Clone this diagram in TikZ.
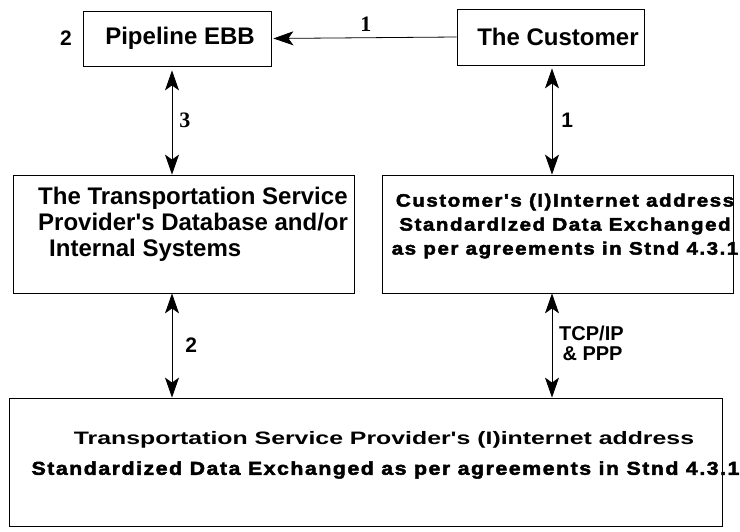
\documentclass[tikz,border=0pt]{standalone}
\usepackage{fontspec}
\setmainfont{Liberation Sans}[Ligatures=TeXOff]
\newfontfamily\serifnum{Liberation Serif}[Ligatures=TeXOff]
\newfontfamily\widesans{Liberation Sans}[FakeStretch=1.38,Ligatures=TeXOff]
\newfontfamily\heavysans{Liberation Sans}[FakeStretch=1.15,LetterSpace=8,Ligatures=TeXOff,
  BoldFeatures={FakeBold=2.5}]
\usetikzlibrary{arrows.meta}

\tikzset{
  box/.style={draw, line width=0.8pt, inner sep=0pt},
  boxtext/.style={font=\bfseries\fontsize{24}{26}\selectfont, inner sep=0pt},
  heavytext/.style={font=\heavysans\bfseries\fontsize{18}{24}\selectfont, inner sep=0pt},
  lbl/.style={font=\bfseries\fontsize{21}{22}\selectfont, inner sep=0pt},
  serlbl/.style={font=\serifnum\bfseries\fontsize{22}{22}\selectfont, inner sep=0pt},
  link/.style={line width=0.8pt, -{Stealth[length=20pt,width=14pt,inset=5pt]}},
  dbl/.style={line width=0.8pt, {Stealth[length=20pt,width=14pt,inset=5pt]}-{Stealth[length=20pt,width=14pt,inset=5pt]}}
}

\begin{document}
\begin{tikzpicture}[x=1pt,y=-1pt]
\useasboundingbox (0,0) rectangle (740,532);

% boxes
\node[box, minimum width=188pt, minimum height=55pt] (pipe) at (177,38.5) {};
\node[box, minimum width=187pt, minimum height=56pt] (cust) at (550.5,37) {};
\node[box, minimum width=341pt, minimum height=118pt] (tspdb) at (183.5,234) {};
\node[box, minimum width=351pt, minimum height=118pt] (custaddr) at (557.5,234) {};
\node[box, minimum width=713pt, minimum height=128pt] (tspaddr) at (365.5,462) {};

% texts
\node[boxtext] (pipetext) at (180,38) {Pipeline EBB};
\node[boxtext] (custtext) at (558,37) {The Customer};
\node[boxtext, align=left, anchor=west] (tspdbtext) at (38,224)
  {The Transportation Service\\Provider's Database and/or\\\hspace*{11pt}Internal Systems};
\node[heavytext, align=center] (custaddrtext) at (565,226)
  {Customer's (I)Internet address\\Standardlzed Data Exchanged\\as per agreements in Stnd 4.3.1};
\node[font=\widesans\bfseries\fontsize{18}{20}\selectfont, inner sep=0pt] (tspaddrtext) at (384,440)
  {Transportation Service Provider's (I)internet address};
\node[heavytext, font=\heavysans\bfseries\fontsize{18.6}{20}\selectfont] (tspstdtext) at (385.5,470)
  {Standardized Data Exchanged as per agreements in Stnd 4.3.1};

% column positions of the arrows
\coordinate (leftcol) at (172,0);
\coordinate (rightcol) at (552,0);

% connectors
\draw[link, shorten >=2pt] (cust.west) -- (pipe.east)
  node[serlbl, pos=0.49, above=6pt] (lblone) {1};
\draw[dbl, shorten <=4pt] (pipe.south -| leftcol) -- (tspdb.north -| leftcol)
  node[serlbl, midway, right=7pt] (lblthree) {3};
\draw[dbl, shorten <=3pt] (cust.south -| rightcol) -- (custaddr.north -| rightcol)
  node[lbl, midway, right=9pt] (lblonebis) {1};
\draw[dbl] (tspdb.south -| leftcol) -- (tspaddr.north -| leftcol)
  node[lbl, midway, right=13pt] (lbltwo) {2};
\draw[dbl] (custaddr.south -| rightcol) -- (tspaddr.north -| rightcol);

% labels
\node[lbl] (stepnum) at (66,38) {2};
\node[lbl, align=left, anchor=west, font=\bfseries\fontsize{20}{20}\selectfont] (proto) at (559,343) {TCP/IP\\\,\& PPP};
\end{tikzpicture}
\end{document}
